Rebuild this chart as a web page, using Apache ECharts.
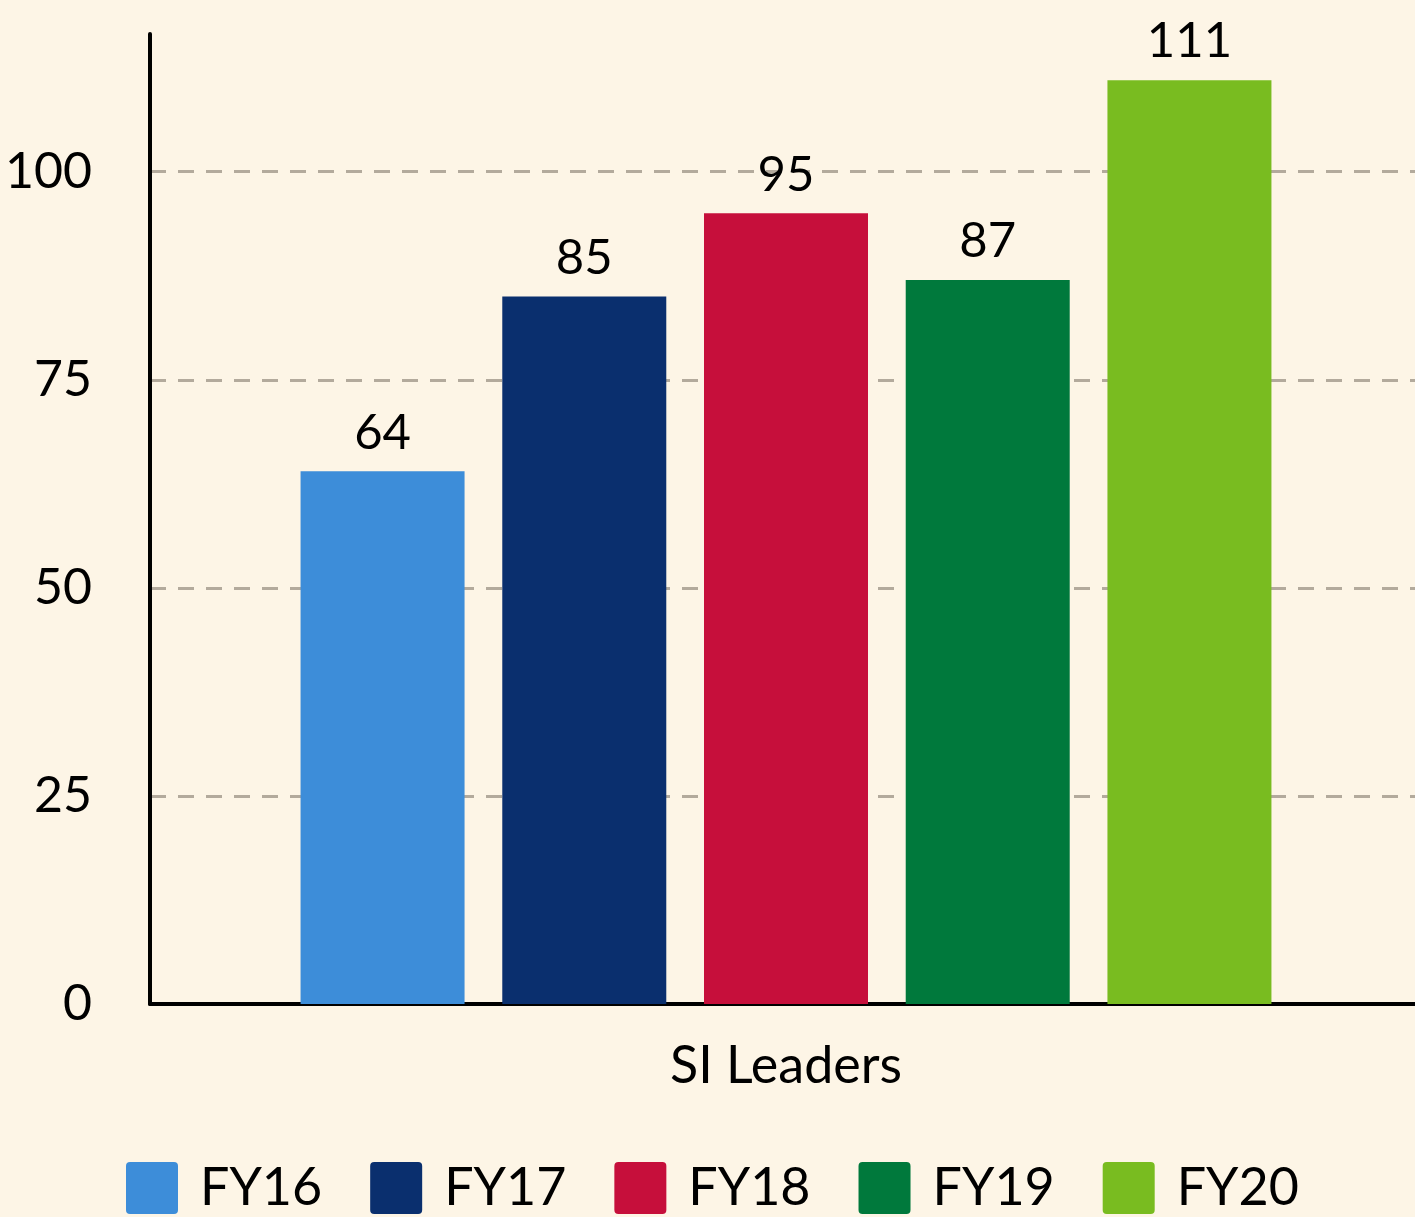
<!DOCTYPE html>
<html>
<head>
<meta charset="utf-8">
<script src="https://cdn.jsdelivr.net/npm/echarts@6/dist/echarts.min.js"></script>
<style>
  html, body { margin: 0; padding: 0; background: #fdf5e6; }
  #main { width: 1415px; height: 1217px; }
</style>
</head>
<body>
<div id="main"></div>
<script>
var categories = ['SI Leaders'];
var seriesNames = ['FY16', 'FY17', 'FY18', 'FY19', 'FY20'];
var seriesValues = [[64], [85], [95], [87], [111]];
var seriesColors = ['#3d8dd9', '#0a2f6e', '#c60f3b', '#00793c', '#79bc20'];
var yTicks = [0, 25, 50, 75, 100];

var myChart = echarts.init(document.getElementById('main'));
var font = 'Lato, "Open Sans", sans-serif';
// square legend marker with small rounded corners
var legendIcon = 'path://M4,0H48Q52,0 52,4V48Q52,52 48,52H4Q0,52 0,48V4Q0,0 4,0Z';

var series = seriesNames.map(function (name, i) {
    return {
        name: name,
        type: 'bar',
        data: seriesValues[i],
        barWidth: 164,
        barGap: '23%',
        itemStyle: { color: seriesColors[i] },
        label: {
            show: true,
            position: 'top',
            distance: 14,
            color: '#000',
            fontFamily: font,
            fontSize: 49
        }
    };
});

var option = {
    backgroundColor: '#fdf5e6',
    animation: false,
    grid: { left: 150, right: -7, top: 34, bottom: 213, outerBoundsMode: 'none', containLabel: false },
    legend: {
        data: seriesNames,
        top: 1157,
        left: 121,
        icon: legendIcon,
        itemWidth: 52,
        itemHeight: 52,
        itemGap: 48,
        textStyle: { fontFamily: font, fontSize: 52, color: '#000', padding: [0, 0, 0, 17] }
    },
    xAxis: {
        type: 'category',
        data: categories,
        axisLine: { lineStyle: { color: '#000', width: 4 } },
        axisTick: { show: false },
        axisLabel: { color: '#000', fontFamily: font, fontSize: 52, margin: 36 }
    },
    yAxis: {
        type: 'value',
        min: 0,
        max: 116.55,
        interval: 25,
        axisLine: { show: true, lineStyle: { color: '#000', width: 4 } },
        axisTick: { show: false },
        axisLabel: {
            color: '#000', fontFamily: font, fontSize: 50, margin: 58,
            formatter: function (v) { return yTicks.indexOf(v) >= 0 ? v : ''; }
        },
        splitLine: {
            show: true,
            showMaxLine: false,
            lineStyle: { color: '#b3aa9c', width: 3, type: [16, 12] }
        }
    },
    series: series
};
myChart.setOption(option);
</script>
</body>
</html>
